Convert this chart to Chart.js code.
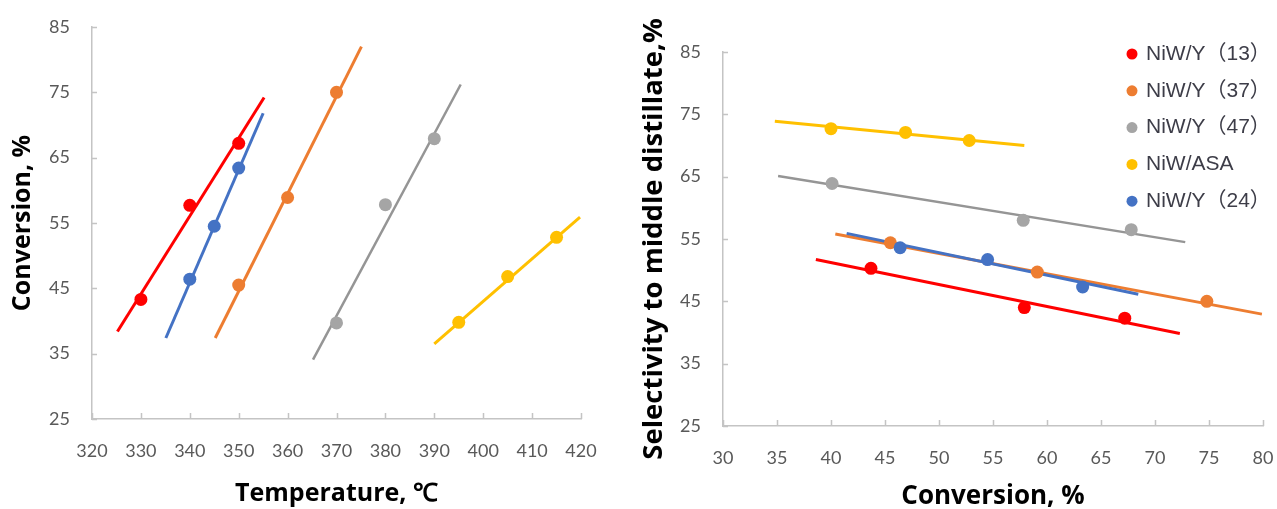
<!DOCTYPE html>
<html>
<head>
<meta charset="utf-8">
<script src="https://cdn.jsdelivr.net/npm/chart.js@4.4.1/dist/chart.umd.min.js"></script>
<style>
  html, body { margin: 0; padding: 0; background: #fff; }
  #wrap { position: relative; width: 1277px; height: 509px; overflow: hidden; }
  #left { position: absolute; left: 0; top: 0; }
  #right { position: absolute; left: 620px; top: 0; }
</style>
</head>
<body>
<div id="wrap">
  <canvas id="left" width="620" height="509"></canvas>
  <canvas id="right" width="657" height="509"></canvas>
</div>
<script>
// series names, same order as the legend
const seriesNames = ['NiW/Y（13）', 'NiW/Y（37）', 'NiW/Y（47）', 'NiW/ASA', 'NiW/Y（24）'];
const seriesColors = ['#ff0000', '#ed7d31', '#a5a5a5', '#ffc000', '#4472c4'];
const lineColors = ['#ff0000', '#ed7d31', '#959595', '#ffc000', '#4472c4'];

// left chart: conversion vs temperature
const temp13 = [330, 340, 350];
const conv13 = [43.3, 57.7, 67.2];
const temp37 = [350, 360, 370];
const conv37 = [45.5, 58.9, 75.0];
const temp47 = [370, 380, 390];
const conv47 = [39.7, 57.8, 67.9];
const tempASA = [395, 405, 415];
const convASA = [39.8, 46.8, 52.8];
const temp24 = [340, 345, 350];
const conv24 = [46.4, 54.5, 63.4];

// left chart trend lines (end points)
const tempTrend13 = [325.2, 355.2];
const convTrend13 = [38.4, 74.2];
const tempTrend37 = [345.2, 375.1];
const convTrend37 = [37.4, 82.0];
const tempTrend47 = [365.2, 395.4];
const convTrend47 = [34.1, 76.2];
const tempTrendASA = [390, 419.8];
const convTrendASA = [36.5, 55.9];
const tempTrend24 = [335.1, 355];
const convTrend24 = [37.4, 71.8];

// right chart: selectivity vs conversion
const selConv13 = [43.7, 57.9, 67.2];
const sel13 = [50.3, 44.0, 42.3];
const selConv37 = [45.5, 59.1, 74.8];
const sel37 = [54.4, 49.7, 45.0];
const selConv47 = [40.1, 57.8, 67.8];
const sel47 = [63.9, 58.0, 56.5];
const selConvASA = [40.0, 46.9, 52.8];
const selASA = [72.7, 72.1, 70.8];
const selConv24 = [46.4, 54.5, 63.3];
const sel24 = [53.6, 51.7, 47.3];

// right chart trend lines (end points)
const selTrendConv13 = [38.6, 72.3];
const selTrend13 = [51.7, 39.85];
const selTrendConv37 = [40.4, 79.9];
const selTrend37 = [55.8, 42.95];
const selTrendConv47 = [35.1, 72.8];
const selTrend47 = [65.1, 54.5];
const selTrendConvASA = [34.8, 57.9];
const selTrendASA = [73.9, 70.0];
const selTrendConv24 = [41.45, 68.45];
const selTrend24 = [55.9, 46.15];

const toPoints = (xs, ys) => xs.map((x, i) => ({ x: x, y: ys[i] }));

const tickFont = { family: 'Lato, "Open Sans", sans-serif', size: 18 };
const titleFamily = '"Open Sans", Lato, sans-serif';
const axisColor = '#c4c4c4';

function buildDatasets(pointSets, trendSets) {
  let sets = [];
  pointSets.forEach((pts, i) => {
    sets.push({
      legendName: seriesNames[i],
      data: pts,
      showLine: false,
      pointRadius: 6.5,
      pointHoverRadius: 6.5,
      pointBorderWidth: 0,
      backgroundColor: seriesColors[i],
      borderColor: seriesColors[i],
      order: i === 4 ? 0 : 1
    });
  });
  trendSets.forEach((pts, i) => {
    sets.push({
      data: pts,
      showLine: true,
      pointRadius: 0,
      borderWidth: i === 2 ? 2.5 : 3,
      borderColor: lineColors[i],
      backgroundColor: lineColors[i],
      order: i === 4 ? 10 : 11
    });
  });
  return sets;
}

// short tick marks pointing into the plot (Excel "inside" ticks)
const innerTicks = {
  id: 'innerTicks',
  afterDraw(chart) {
    const ctx = chart.ctx;
    const xs = chart.scales.x, ys = chart.scales.y;
    ctx.save();
    ctx.strokeStyle = axisColor;
    ctx.lineWidth = 1.5;
    ctx.beginPath();
    xs.ticks.forEach((t) => {
      const px = Math.round(xs.getPixelForValue(t.value)) + 0.5;
      ctx.moveTo(px, xs.top);
      ctx.lineTo(px, xs.top - 6);
    });
    ys.ticks.forEach((t) => {
      const py = Math.round(ys.getPixelForValue(t.value)) + 0.5;
      ctx.moveTo(ys.right, py);
      ctx.lineTo(ys.right + 5, py);
    });
    ctx.stroke();
    ctx.restore();
  }
};

// legend drawn over the plot area, like the original
const sideLegend = {
  id: 'sideLegend',
  afterDraw(chart, args, opts) {
    if (!opts.show) return;
    const ctx = chart.ctx;
    ctx.save();
    ctx.font = '21px "Liberation Sans", "Noto Sans CJK SC", sans-serif';
    ctx.textBaseline = 'middle';
    let row = 0;
    chart.data.datasets.forEach((ds) => {
      if (!ds.legendName) return;
      const y = opts.top + row * opts.gap;
      ctx.fillStyle = ds.backgroundColor;
      ctx.beginPath();
      ctx.arc(opts.left, y, 5.5, 0, Math.PI * 2);
      ctx.fill();
      ctx.fillStyle = '#3d3d48';
      ctx.fillText(ds.legendName, opts.left + 14, y);
      row++;
    });
    ctx.restore();
  }
};

function makeChart(id, cfg) {
  return new Chart(document.getElementById(id), {
    type: 'scatter',
    data: { datasets: buildDatasets(cfg.points, cfg.trends) },
    options: {
      responsive: false,
      animation: false,
      events: [],
      layout: { padding: cfg.padding },
      plugins: {
        legend: { display: false },
        tooltip: { enabled: false },
        sideLegend: cfg.legend
      },
      scales: {
        x: {
          type: 'linear',
          min: cfg.xMin, max: cfg.xMax,
          afterFit: (s) => { s.height = cfg.xHeight; },
          border: { display: true, color: axisColor, width: 1.5 },
          grid: { drawOnChartArea: false, drawTicks: true, tickLength: 19, tickColor: 'rgba(0,0,0,0)' },
          ticks: { stepSize: cfg.xStep, color: '#595959', font: tickFont, padding: 2, maxRotation: 0 },
          title: { display: true, text: cfg.xTitle, color: '#000',
                   font: { family: titleFamily, size: cfg.xTitleSize, weight: 'bold', lineHeight: 1 },
                   padding: { top: 0, bottom: cfg.xTitlePad } }
        },
        y: {
          type: 'linear',
          min: 25, max: 85,
          afterFit: (s) => { s.width = cfg.yWidth; },
          border: { display: true, color: axisColor, width: 1.5 },
          grid: { drawOnChartArea: false, drawTicks: true, tickLength: 20, tickColor: 'rgba(0,0,0,0)' },
          ticks: { stepSize: 10, color: '#595959', font: tickFont, padding: 2 },
          title: { display: true, text: cfg.yTitle, color: '#000',
                   font: { family: titleFamily, size: cfg.yTitleSize, weight: 'bold', lineHeight: 1 },
                   padding: { top: cfg.yTitlePad, bottom: 0 } }
        }
      }
    },
    plugins: [innerTicks, sideLegend]
  });
}

makeChart('left', {
  points: [toPoints(temp13, conv13), toPoints(temp37, conv37), toPoints(temp47, conv47),
           toPoints(tempASA, convASA), toPoints(temp24, conv24)],
  trends: [toPoints(tempTrend13, convTrend13), toPoints(tempTrend37, convTrend37), toPoints(tempTrend47, convTrend47),
           toPoints(tempTrendASA, convTrendASA), toPoints(tempTrend24, convTrend24)],
  padding: { left: 0, top: 27, right: 39, bottom: 0 },
  xMin: 320, xMax: 420, xStep: 10, xHeight: 90, yWidth: 92,
  xTitle: 'Temperature, ℃', yTitle: 'Conversion, %',
  xTitlePad: 3, yTitlePad: 10, xTitleSize: 25, yTitleSize: 25,
  legend: { show: false }
});

makeChart('right', {
  points: [toPoints(selConv13, sel13), toPoints(selConv37, sel37), toPoints(selConv47, sel47),
           toPoints(selConvASA, selASA), toPoints(selConv24, sel24)],
  trends: [toPoints(selTrendConv13, selTrend13), toPoints(selTrendConv37, selTrend37), toPoints(selTrendConv47, selTrend47),
           toPoints(selTrendConvASA, selTrendASA), toPoints(selTrendConv24, selTrend24)],
  padding: { left: 0, top: 52, right: 14, bottom: 0 },
  xMin: 30, xMax: 80, xStep: 5, xHeight: 83, yWidth: 103,
  xTitle: 'Conversion, %', yTitle: 'Selectivity to middle distillate,%',
  xTitlePad: -1, yTitlePad: 20, xTitleSize: 26, yTitleSize: 27.5,
  legend: { show: true, left: 512, top: 54, gap: 36.8 }
});
</script>
</body>
</html>
